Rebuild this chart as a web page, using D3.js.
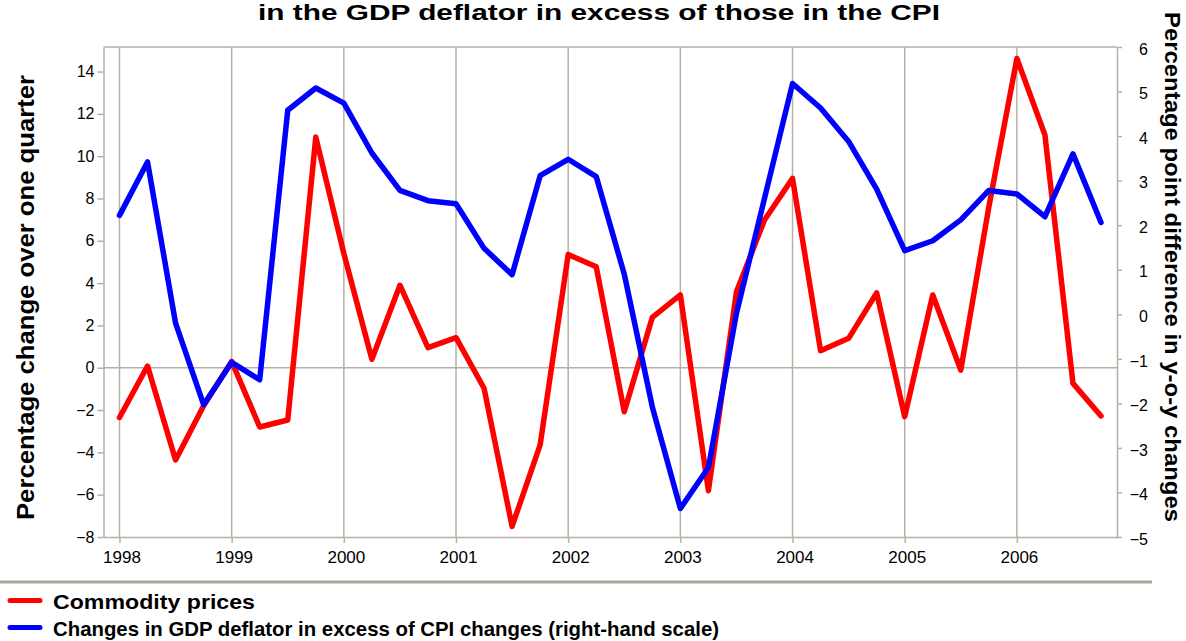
<!DOCTYPE html>
<html>
<head>
<meta charset="utf-8">
<script src="https://cdn.jsdelivr.net/npm/d3@7"></script>
<style>
  body { margin: 0; background: #fff; }
  svg { display: block; font-family: "Liberation Sans", Arial, sans-serif; }
</style>
</head>
<body>
<div id="chart"></div>
<script>
// quarterly data, 1998Q1 .. 2006Q4
const years = [1998, 1999, 2000, 2001, 2002, 2003, 2004, 2005, 2006];
const commodity = [
  -2.35, 0.08, -4.36, -1.8, 0.3, -2.8, -2.47, 10.9,
  5.4, 0.4, 3.9, 0.95, 1.42, -0.97, -7.5, -3.65,
  5.35, 4.77, -2.08, 2.38, 3.44, -5.81, 3.59, 6.98,
  8.95, 0.8, 1.39, 3.54, -2.31, 3.44, -0.11, 7.6,
  14.62, 11.0, -0.74, -2.28
];
const deflatorGap = [
  2.22, 3.42, -0.2, -2.03, -1.08, -1.47, 4.58, 5.08,
  4.74, 3.62, 2.78, 2.55, 2.48, 1.48, 0.89, 3.11,
  3.48, 3.09, 0.9, -2.08, -4.36, -3.44, 0.02, 2.6,
  5.18, 4.63, 3.88, 2.81, 1.43, 1.65, 2.12, 2.78,
  2.7, 2.19, 3.6, 2.06
];
const leftTicks = [-8, -6, -4, -2, 0, 2, 4, 6, 8, 10, 12, 14];
const rightTicks = [-5, -4, -3, -2, -1, 0, 1, 2, 3, 4, 5, 6];
const titleText = 'in the GDP deflator in excess of those in the CPI';
const leftTitle = 'Percentage change over one quarter';
const rightTitle = 'Percentage point difference in y-o-y changes';
const legendItems = [
  { label: 'Commodity prices', color: '#ff0000' },
  { label: 'Changes in GDP deflator in excess of CPI changes (right-hand scale)', color: '#0000ff' }
];

const width = 1186, height = 641;
const plot = { left: 103.5, right: 1117, top: 47, bottom: 537 };
const gridColor = '#b5b1a5';

const svg = d3.select('#chart').append('svg')
  .attr('width', width)
  .attr('height', height);

const x = d3.scaleLinear()
  .domain([-0.57, commodity.length - 0.43])
  .range([plot.left, plot.right]);
const yL = d3.scaleLinear().domain([-8, 15.16]).range([plot.bottom, plot.top]);
const yR = d3.scaleLinear().domain([-5, 6]).range([plot.bottom, plot.top]);
const yearIndex = (yr) => (yr - years[0]) * 4;

// grid
const grid = svg.append('g').attr('stroke', gridColor).attr('stroke-width', 1.5);
grid.selectAll('.vgrid')
  .data(years)
  .join('line')
  .attr('x1', (d) => x(yearIndex(d)))
  .attr('x2', (d) => x(yearIndex(d)))
  .attr('y1', plot.top)
  .attr('y2', plot.bottom);
grid.append('line')
  .attr('x1', plot.left).attr('x2', plot.right)
  .attr('y1', yL(0)).attr('y2', yL(0));
grid.append('line')
  .attr('x1', plot.left).attr('x2', plot.right)
  .attr('y1', plot.top).attr('y2', plot.top);

// axes
function styleAxis(size) {
  return (g) => {
    g.selectAll('path, line').attr('stroke', gridColor).attr('stroke-width', 1.5);
    g.selectAll('text').attr('fill', '#000').attr('font-size', size)
      .attr('font-family', '"Liberation Sans", Arial, sans-serif');
  };
}

svg.append('g')
  .attr('transform', `translate(${plot.left},0)`)
  .call(d3.axisLeft(yL).tickValues(leftTicks).tickSize(6).tickPadding(3).tickSizeOuter(0))
  .call(styleAxis(16));

svg.append('g')
  .attr('transform', `translate(${plot.right},0)`)
  .call(d3.axisRight(yR).tickValues(rightTicks).tickSize(5).tickPadding(26).tickSizeOuter(0))
  .call(styleAxis(16))
  .call((g) => g.selectAll('text').attr('text-anchor', 'end').attr('dy', '0.45em'));

svg.append('g')
  .attr('transform', `translate(0,${plot.bottom})`)
  .call(d3.axisBottom(x)
    .tickValues(years.map(yearIndex))
    .tickFormat((d) => years[0] + d / 4)
    .tickSize(6).tickPadding(8).tickSizeOuter(0))
  .call(styleAxis(17))
  .call((g) => g.selectAll('text').attr('dx', 2));

// series
const lineL = d3.line().x((d, i) => x(i)).y((d) => yL(d));
const lineR = d3.line().x((d, i) => x(i)).y((d) => yR(d));

svg.append('path')
  .datum(commodity)
  .attr('fill', 'none')
  .attr('stroke', '#ff0000')
  .attr('stroke-width', 5.5)
  .attr('stroke-linejoin', 'round')
  .attr('stroke-linecap', 'round')
  .attr('d', lineL);

svg.append('path')
  .datum(deflatorGap)
  .attr('fill', 'none')
  .attr('stroke', '#0000ff')
  .attr('stroke-width', 5.5)
  .attr('stroke-linejoin', 'round')
  .attr('stroke-linecap', 'round')
  .attr('d', lineR);

// titles
svg.append('text')
  .attr('x', 599).attr('y', 20)
  .attr('text-anchor', 'middle')
  .attr('font-size', 22).attr('font-weight', 'bold')
  .attr('textLength', 682).attr('lengthAdjust', 'spacingAndGlyphs')
  .text(titleText);

svg.append('text')
  .attr('transform', 'translate(34,297.5) rotate(-90)')
  .attr('text-anchor', 'middle')
  .attr('font-size', 23).attr('font-weight', 'bold')
  .attr('textLength', 445).attr('lengthAdjust', 'spacingAndGlyphs')
  .text(leftTitle);

svg.append('text')
  .attr('transform', 'translate(1165,267) rotate(90)')
  .attr('text-anchor', 'middle')
  .attr('font-size', 22).attr('font-weight', 'bold')
  .attr('textLength', 510).attr('lengthAdjust', 'spacingAndGlyphs')
  .text(rightTitle);

// legend
svg.append('line')
  .attr('x1', 0).attr('x2', 1152)
  .attr('y1', 582).attr('y2', 582)
  .attr('stroke', '#aaa69a').attr('stroke-width', 3);

const legendWidths = [202, 666];
const legend = svg.append('g')
  .selectAll('g')
  .data(legendItems)
  .join('g')
  .attr('transform', (d, i) => `translate(0,${600.5 + i * 27})`);

legend.append('line')
  .attr('x1', 10).attr('x2', 40)
  .attr('stroke', (d) => d.color)
  .attr('stroke-width', 5)
  .attr('stroke-linecap', 'round');

legend.append('text')
  .attr('x', 53).attr('y', 8)
  .attr('font-size', 21).attr('font-weight', 'bold')
  .attr('textLength', (d, i) => legendWidths[i])
  .attr('lengthAdjust', 'spacingAndGlyphs')
  .text((d) => d.label);
</script>
</body>
</html>
